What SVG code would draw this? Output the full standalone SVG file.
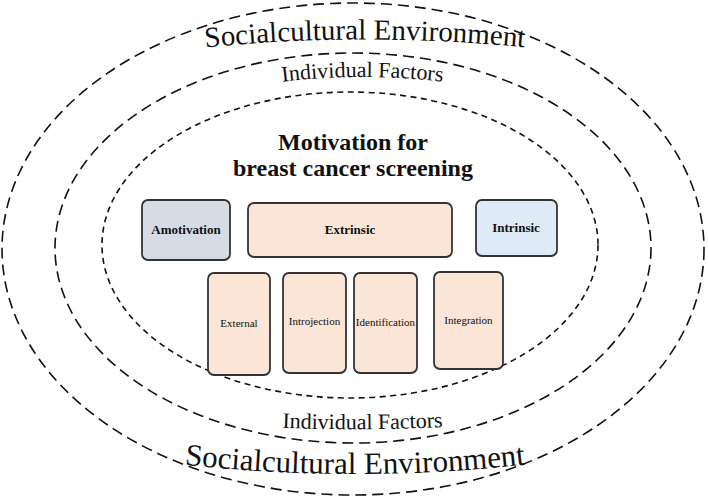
<svg xmlns="http://www.w3.org/2000/svg" width="708" height="500" viewBox="0 0 708 500">
<style>
.ring{fill:none;stroke:#111;stroke-width:1.6}
.box{stroke:#333;stroke-width:1.8}
.ser{font-family:"Liberation Serif","Times New Roman",serif;fill:#111}
.lbl{font-family:"Liberation Serif","Times New Roman",serif;font-weight:bold;font-size:13px;fill:#111;text-anchor:middle}
.sm{font-family:"Liberation Serif","Times New Roman",serif;font-size:11px;fill:#111;text-anchor:middle}
</style>
<defs>
<path id="pTopS" d="M 190 49 Q 365 30 540 49"/>
<path id="pTopI" d="M 265 84 Q 362 70 460 84"/>
<path id="pBotI" d="M 265 427 Q 362 432 460 426"/>
<path id="pBotS" d="M 170 463 Q 355 485 540 463"/>
</defs>
<rect width="708" height="500" fill="#fff"/>
<g id="rings">
<ellipse class="ring" cx="353" cy="249" rx="351" ry="246" stroke-dasharray="11 6"/>
<ellipse class="ring" cx="353" cy="248" rx="298" ry="195" stroke-dasharray="11 6"/>
<ellipse class="ring" cx="350" cy="245" rx="248" ry="153" stroke-dasharray="6 4.5"/>
</g>
<g id="ring-labels" class="ser">
<text font-size="29" text-anchor="middle"><textPath href="#pTopS" startOffset="50%">Socialcultural Environment</textPath></text>
<text font-size="22" text-anchor="middle"><textPath href="#pTopI" startOffset="50%">Individual Factors</textPath></text>
<text font-size="22" text-anchor="middle"><textPath href="#pBotI" startOffset="50%">Individual Factors</textPath></text>
<text font-size="31" text-anchor="middle"><textPath href="#pBotS" startOffset="50%">Socialcultural Environment</textPath></text>
</g>
<g id="title">
<text class="ser" x="353" y="150" font-size="24" font-weight="bold" text-anchor="middle">Motivation for</text>
<text class="ser" x="353" y="176" font-size="24" font-weight="bold" text-anchor="middle">breast cancer screening</text>
</g>
<g id="amotivation">
<rect class="box" x="142" y="200" width="88" height="60" rx="6" fill="#d6dce5"/>
<text class="lbl" x="186" y="234">Amotivation</text>
</g>
<g id="extrinsic">
<rect class="box" x="248" y="203" width="204" height="54" rx="6" fill="#fbe5d6"/>
<text class="lbl" x="350" y="234">Extrinsic</text>
</g>
<g id="intrinsic">
<rect class="box" x="476" y="200" width="81" height="56" rx="6" fill="#deebf7"/>
<text class="lbl" x="516" y="232">Intrinsic</text>
</g>
<g id="external">
<rect class="box" x="208" y="273" width="62" height="102" rx="6" fill="#fbe5d6"/>
<text class="sm" x="239" y="327">External</text>
</g>
<g id="introjection">
<rect class="box" x="283" y="273" width="63" height="100" rx="6" fill="#fbe5d6"/>
<text class="sm" x="314.5" y="325">Introjection</text>
</g>
<g id="identification">
<rect class="box" x="354" y="273" width="63" height="100" rx="6" fill="#fbe5d6"/>
<text class="sm" x="385.5" y="326">Identification</text>
</g>
<g id="integration">
<rect class="box" x="434" y="272" width="69" height="97" rx="6" fill="#fbe5d6"/>
<text class="sm" x="468.5" y="324">Integration</text>
</g>
<g id="connectors"></g>
</svg>
